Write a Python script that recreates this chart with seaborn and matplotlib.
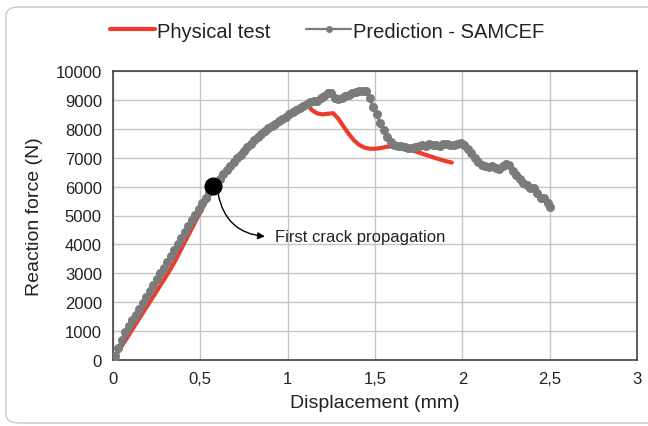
import matplotlib
matplotlib.use("Agg")
import matplotlib.pyplot as plt
from matplotlib.lines import Line2D
from matplotlib.patches import FancyBboxPatch
import seaborn as sns
import pandas as pd

# ---- data ----
test_x = [0.00, 0.02, 0.05, 0.08, 0.105, 0.14, 0.175, 0.21, 0.245, 0.28, 0.315, 0.345,
          0.375, 0.40, 0.43, 0.46, 0.49, 0.52, 0.55, 0.575, 0.60, 0.63, 0.66, 0.69,
          0.72, 0.75, 0.78, 0.81, 0.84, 0.87, 0.90, 0.93, 0.96, 0.99, 1.02, 1.05, 1.08,
          1.10, 1.12, 1.14, 1.17, 1.20, 1.23, 1.26, 1.29, 1.32, 1.35, 1.38, 1.41, 1.44,
          1.47, 1.50, 1.53, 1.56, 1.60, 1.65, 1.70, 1.75, 1.80, 1.85, 1.90, 1.94]
test_y = [0, 190, 480, 760, 1000, 1340, 1670, 2000, 2330, 2670, 3000, 3310,
          3650, 3950, 4300, 4650, 5000, 5340, 5680, 6000, 6200, 6430, 6660, 6880,
          7090, 7280, 7460, 7630, 7780, 7920, 8060, 8190, 8310, 8420, 8520, 8620, 8710,
          8770, 8770, 8640, 8530, 8500, 8520, 8540, 8350, 8080, 7820, 7600, 7440, 7350,
          7310, 7310, 7330, 7370, 7400, 7360, 7280, 7180, 7080, 6980, 6890, 6830]

pred_x = [0.00, 0.01, 0.03, 0.05, 0.07, 0.09, 0.11, 0.13, 0.15, 0.17, 0.19, 0.21, 0.23,
          0.25, 0.27, 0.29, 0.31, 0.33, 0.35, 0.37, 0.39, 0.41, 0.43, 0.45, 0.47, 0.49,
          0.51, 0.53, 0.55, 0.57, 0.59, 0.61, 0.63, 0.65, 0.67, 0.69, 0.71, 0.73, 0.75,
          0.77, 0.79, 0.81, 0.83, 0.85, 0.87, 0.89, 0.91, 0.93, 0.95, 0.97, 0.99, 1.01,
          1.03, 1.05, 1.07, 1.09, 1.11, 1.13, 1.15, 1.17, 1.19, 1.21, 1.23, 1.25, 1.27,
          1.29, 1.31, 1.33, 1.35, 1.37, 1.39, 1.41, 1.43, 1.45, 1.47, 1.49, 1.51, 1.53,
          1.55, 1.57, 1.59, 1.61, 1.63, 1.65, 1.67, 1.69, 1.71, 1.73, 1.75, 1.77, 1.79,
          1.81, 1.83, 1.85, 1.87, 1.89, 1.91, 1.93, 1.95, 1.97, 1.99, 2.01, 2.03, 2.05,
          2.07, 2.09, 2.11, 2.13, 2.15, 2.17, 2.19, 2.21, 2.23, 2.25, 2.27, 2.29, 2.31,
          2.33, 2.35, 2.37, 2.39, 2.41, 2.43, 2.45, 2.47, 2.49, 2.50]
pred_y = [0, 140, 420, 700, 960, 1160, 1370, 1570, 1780, 1980, 2180, 2390, 2590,
          2790, 3000, 3200, 3400, 3610, 3820, 4030, 4230, 4430, 4630, 4830, 5030, 5220,
          5420, 5610, 5800, 5990, 6130, 6270, 6420, 6560, 6710, 6860, 6980, 7110, 7240,
          7360, 7480, 7600, 7710, 7830, 7940, 8030, 8110, 8180, 8260, 8330, 8420, 8500,
          8580, 8650, 8720, 8800, 8860, 8920, 8950, 8960, 9060, 9150, 9230, 9250, 9080,
          9030, 9080, 9120, 9180, 9230, 9260, 9300, 9320, 9300, 9050, 8750, 8500, 8200,
          7950, 7700, 7560, 7450, 7400, 7420, 7380, 7350, 7330, 7370, 7410, 7440, 7420,
          7460, 7440, 7450, 7420, 7470, 7480, 7440, 7450, 7480, 7500, 7450, 7300, 7150,
          7000, 6850, 6760, 6720, 6690, 6700, 6650, 6620, 6720, 6780, 6740, 6550, 6400,
          6260, 6130, 6050, 5960, 5950, 5780, 5600, 5620, 5430, 5300]

crack_x = [0.575]
crack_y = [6020]

x_ticks = [0, 0.5, 1, 1.5, 2, 2.5, 3]
x_tick_labels = ["0", "0,5", "1", "1,5", "2", "2,5", "3"]
y_ticks = list(range(0, 10001, 1000))

series_names = ["Physical test", "Prediction - SAMCEF"]
annotation_text = "First crack propagation"

# ---- style ----
sns.set_theme(style="whitegrid")
plt.rcParams["font.family"] = ["Liberation Sans", "DejaVu Sans"]

RED = "#ee3b2c"
GRAY = "#7b7b7b"

fig = plt.figure(figsize=(6.48, 4.27), dpi=100)
fig.patch.set_facecolor("white")
ax = fig.add_axes([113 / 648, 1 - 361 / 427, (637 - 113) / 648, (361 - 72) / 427])

df_test = pd.DataFrame({"x": test_x, "y": test_y})
df_pred = pd.DataFrame({"x": pred_x, "y": pred_y})

sns.lineplot(data=df_test, x="x", y="y", ax=ax, color=RED, linewidth=3.0,
             estimator=None, sort=False, zorder=3)
sns.lineplot(data=df_pred, x="x", y="y", ax=ax, color=GRAY, linewidth=2.0,
             marker="o", markersize=6.5, markeredgewidth=0, markerfacecolor=GRAY,
             estimator=None, sort=False, zorder=4)
ax.plot(crack_x, crack_y, "o", color="black", markersize=12, zorder=6)

ax.set_xlim(0, 3)
ax.set_ylim(0, 10000)
ax.set_xticks(x_ticks)
ax.set_xticklabels(x_tick_labels)
ax.set_yticks(y_ticks)
ax.tick_params(axis="both", labelsize=12, colors="#222222", length=4, width=1,
               direction="out", pad=4)
ax.tick_params(axis="both", color="#333333")
ax.grid(True, color="#c4c4c4", linewidth=1)
ax.set_facecolor("white")
for s in ax.spines.values():
    s.set_visible(True)
    s.set_color("#333333")
    s.set_linewidth(1.1)
ax.set_xlabel("Displacement (mm)", fontsize=14, color="#222222", labelpad=6)
ax.set_ylabel("Reaction force (N)", fontsize=14, color="#222222", labelpad=9)

# annotation
ax.annotate("", xy=(0.885, 4270), xytext=(0.60, 5820),
            arrowprops=dict(arrowstyle="-|>", color="black", lw=1.0,
                            connectionstyle="arc3,rad=0.4", mutation_scale=10),
            zorder=5)
ax.text(0.925, 4260, annotation_text, fontsize=12, color="#222222",
        va="center", ha="left")

# legend
handles = [Line2D([], [], color=RED, linewidth=3.0),
           Line2D([], [], color=GRAY, linewidth=1.6, marker="o", markersize=4)]
fig.legend(handles, series_names, loc="center", bbox_to_anchor=(0.505, 1 - 32 / 427),
           ncol=2, frameon=False, fontsize=14.5, handlelength=2.2, handletextpad=0.1,
           columnspacing=1.8, labelcolor="#222222")

# rounded outer frame
frame = FancyBboxPatch((6 / 648, 3 / 427), (660 - 6) / 648, (419 - 3) / 427,
                       boxstyle="round,pad=0,rounding_size=0.02",
                       transform=fig.transFigure, facecolor="none",
                       edgecolor="#c9c5d6", linewidth=1.0, zorder=0)
fig.patches.append(frame)

fig.savefig("out.png", dpi=100, facecolor="white")
